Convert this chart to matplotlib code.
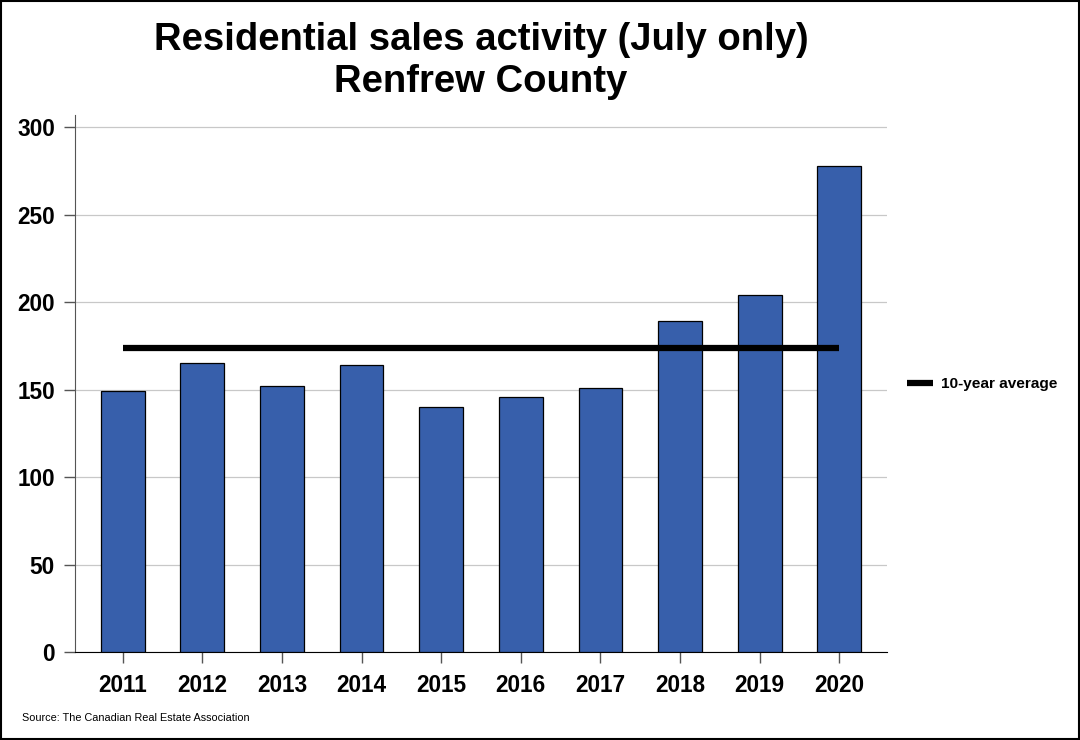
import matplotlib
matplotlib.use("Agg")
import matplotlib.pyplot as plt
from matplotlib.patches import Rectangle

years = ["2011", "2012", "2013", "2014", "2015", "2016", "2017", "2018", "2019", "2020"]
sales = [149, 165, 152, 164, 140, 146, 151, 189, 204, 278]
ten_year_avg = 173.8
y_ticks = [0, 50, 100, 150, 200, 250, 300]

plt.rcParams['font.family'] = ['Liberation Sans', 'DejaVu Sans']

fig = plt.figure(figsize=(10.8, 7.4), dpi=100)
ax = fig.add_axes([75 / 1080, 1 - 652 / 740, (887 - 75) / 1080, (652 - 115) / 740])

x = list(range(len(years)))
ax.bar(x, sales, width=0.55, color="#375fab", edgecolor="black", linewidth=0.9, zorder=3)
line, = ax.plot([x[0], x[-1]], [ten_year_avg, ten_year_avg], color="black", linewidth=4.5,
                solid_capstyle="butt", zorder=4, label="10-year average")

ax.set_xlim(-0.6, len(years) - 0.4)
ax.set_ylim(0, 307)
ax.set_yticks(y_ticks)
ax.set_xticks(x)
ax.set_xticklabels(years)
ax.yaxis.grid(True, color="#c8c8c8", linewidth=0.9, zorder=0)
ax.tick_params(axis="both", labelsize=16.3, width=1, color="#555555")
ax.tick_params(axis="y", length=8, pad=6.5)
ax.tick_params(axis="x", length=8, pad=8)
for lbl in ax.get_xticklabels() + ax.get_yticklabels():
    lbl.set_fontweight("bold")

for side in ["top", "right"]:
    ax.spines[side].set_visible(False)
ax.spines["left"].set_color("#555555")
ax.spines["bottom"].set_color("black")

fig.text(481 / 1080, 1 - 61 / 740, "Residential sales activity (July only)\nRenfrew County",
         ha="center", va="center", fontsize=27.5, fontweight="bold", linespacing=1.25)

fig.legend(handles=[line], loc="center left", bbox_to_anchor=(893 / 1080, 1 - 384 / 740),
           frameon=False, prop={"size": 11.1, "weight": "bold"}, handlelength=1.7, handletextpad=0.5)

fig.text(22 / 1080, 1 - 718 / 740, "Source: The Canadian Real Estate Association",
         ha="left", va="center", fontsize=7.8)

fig.patches.append(Rectangle((0.001, 0.001), 0.998, 0.998, transform=fig.transFigure,
                             fill=False, edgecolor="black", linewidth=1.5))

fig.savefig("out.png", dpi=100)
